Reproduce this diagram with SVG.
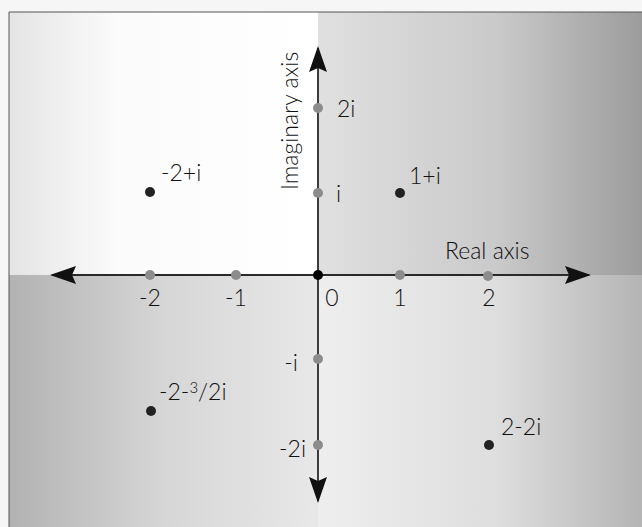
<svg xmlns="http://www.w3.org/2000/svg" width="642" height="527" viewBox="0 0 642 527">
<style>
.lbl{font-family:Lato,"Open Sans","Liberation Sans",sans-serif;font-weight:300;font-size:23px;fill:#111}
.axis{stroke:#2a2a2a;stroke-width:1.8;fill:none}
.tick{fill:#8c8c8c}
.pt{fill:#222}
</style>
<defs>
<linearGradient id="gTL" x1="9" y1="0" x2="318" y2="0" gradientUnits="userSpaceOnUse">
<stop offset="0" stop-color="#e4e4e4"/><stop offset="0.35" stop-color="#fbfbfb"/><stop offset="1" stop-color="#ffffff"/>
</linearGradient>
<linearGradient id="gTR" x1="318" y1="0" x2="642" y2="0" gradientUnits="userSpaceOnUse">
<stop offset="0" stop-color="#e0e0e0"/><stop offset="0.55" stop-color="#cacaca"/><stop offset="1" stop-color="#9c9c9c"/>
</linearGradient>
<linearGradient id="gBL" x1="9" y1="0" x2="318" y2="0" gradientUnits="userSpaceOnUse">
<stop offset="0" stop-color="#b2b2b2"/><stop offset="0.5" stop-color="#d6d6d6"/><stop offset="1" stop-color="#e8e8e8"/>
</linearGradient>
<linearGradient id="gBR" x1="318" y1="0" x2="642" y2="0" gradientUnits="userSpaceOnUse">
<stop offset="0" stop-color="#eeeeee"/><stop offset="0.55" stop-color="#dedede"/><stop offset="1" stop-color="#b4b4b4"/>
</linearGradient>
<marker id="ah" viewBox="0 0 26 18" refX="24" refY="9" markerWidth="26" markerHeight="18" markerUnits="userSpaceOnUse" orient="auto">
<path d="M0,0 L26,9 L0,18 L4,9 Z" fill="#111"/>
</marker>
</defs>
<rect x="0" y="0" width="642" height="527" fill="#f6f6f6"/>
<g id="background">
<rect x="9" y="12" width="309" height="263" fill="url(#gTL)"/>
<rect x="318" y="12" width="324" height="263" fill="url(#gTR)"/>
<rect x="9" y="275" width="309" height="252" fill="url(#gBL)"/>
<rect x="318" y="275" width="324" height="252" fill="url(#gBR)"/>
<path d="M9,527 V12 H642" fill="none" stroke="#555" stroke-width="1"/>
</g>
<g id="connectors">
<line class="axis" x1="318" y1="275" x2="589" y2="275" marker-end="url(#ah)"/>
<line class="axis" x1="318" y1="275" x2="52" y2="275" marker-end="url(#ah)"/>
<line class="axis" x1="318" y1="275" x2="318" y2="48" marker-end="url(#ah)"/>
<line class="axis" x1="318" y1="275" x2="318" y2="501" marker-end="url(#ah)"/>
</g>
<g id="axis-labels">
<text class="lbl" x="445" y="259" font-size="24">Real axis</text>
<text class="lbl" transform="translate(298,190) rotate(-90)" font-size="24">Imaginary axis</text>
</g>
<g id="real-ticks">
<g id="re-m2"><circle class="tick" cx="150" cy="275" r="5"/><text class="lbl" x="150" y="306" text-anchor="middle">-2</text></g>
<g id="re-m1"><circle class="tick" cx="236" cy="275" r="5"/><text class="lbl" x="236" y="306" text-anchor="middle">-1</text></g>
<g id="origin"><circle cx="318" cy="275" r="5" fill="#000"/><text class="lbl" x="332" y="306" text-anchor="middle">0</text></g>
<g id="re-1"><circle class="tick" cx="400" cy="275" r="5"/><text class="lbl" x="400" y="306" text-anchor="middle">1</text></g>
<g id="re-2"><circle class="tick" cx="488" cy="276" r="5"/><text class="lbl" x="489" y="306" text-anchor="middle">2</text></g>
</g>
<g id="imag-ticks">
<g id="im-2"><circle class="tick" cx="318" cy="108" r="5"/><text class="lbl" x="337" y="117">2i</text></g>
<g id="im-1"><circle class="tick" cx="318" cy="193" r="5"/><text class="lbl" x="336" y="202">i</text></g>
<g id="im-m1"><circle class="tick" cx="318" cy="359" r="5"/><text class="lbl" x="298" y="371" text-anchor="end">-i</text></g>
<g id="im-m2"><circle class="tick" cx="318" cy="445" r="5"/><text class="lbl" x="306" y="457" text-anchor="end">-2i</text></g>
</g>
<g id="p-m2pi"><circle class="pt" cx="150" cy="192" r="5"/><text class="lbl" x="161" y="181">-2+i</text></g>
<g id="p-1pi"><circle class="pt" cx="400" cy="193" r="5"/><text class="lbl" x="409" y="184">1+i</text></g>
<g id="p-m2m32i"><circle class="pt" cx="151" cy="411" r="5"/><text class="lbl" x="159" y="400">-2-<tspan font-size="15" dy="-7">3</tspan><tspan dy="7">/2i</tspan></text></g>
<g id="p-2m2i"><circle class="pt" cx="489" cy="445" r="5"/><text class="lbl" x="501" y="435">2-2i</text></g>
</svg>
